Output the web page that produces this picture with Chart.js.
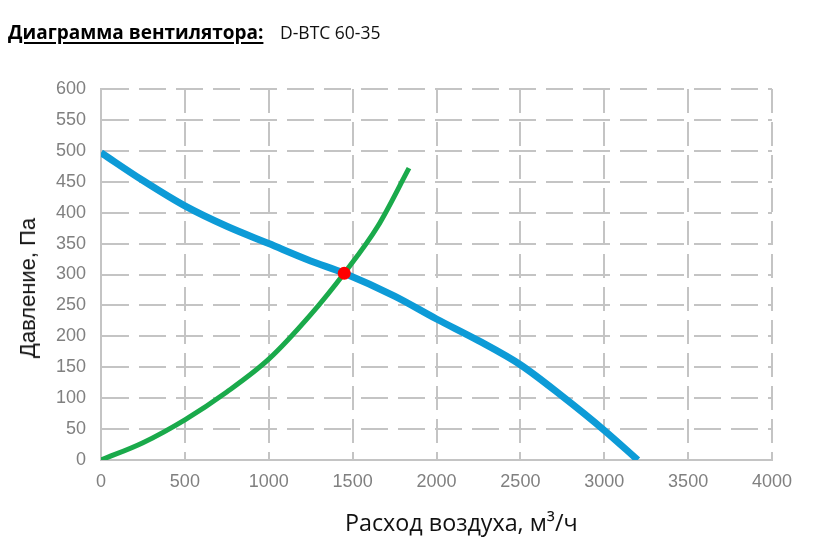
<!DOCTYPE html>
<html>
<head>
<meta charset="utf-8">
<script src="https://cdn.jsdelivr.net/npm/chart.js@4"></script>
<style>
  html, body { margin:0; padding:0; background:#fff; }
  #wrap { position:relative; width:820px; height:560px; overflow:hidden; }
  #c { position:absolute; left:0; top:0; }
  .t { position:absolute; white-space:nowrap; color:#000; }
  #title { left:8px; top:19px; font-family:"Open Sans", sans-serif; font-weight:bold; font-size:19px; text-decoration:underline; text-decoration-thickness:2px; text-underline-offset:3px; }
  #model { left:280px; top:20px; font-family:"Open Sans", sans-serif; font-size:17.5px; color:#111; }
  #xtitle { left:345px; top:506px; font-family:"Open Sans", sans-serif; font-size:23.3px; color:#111; }
  #ytitle { left:28px; top:288px; font-family:"Liberation Sans", Arial, sans-serif; font-size:22px; color:#111; transform:translate(-50%,-50%) rotate(-90deg); }
</style>
</head>
<body>
<div id="wrap">
  <canvas id="c" width="820" height="560"></canvas>
  <div class="t" id="title">Диаграмма вентилятора:</div>
  <div class="t" id="model">D-BTC 60-35</div>
  <div class="t" id="xtitle">Расход воздуха, м³/ч</div>
  <div class="t" id="ytitle">Давление, Па</div>
</div>
<script>
// Fan curve (blue)
const fanFlow     = [0, 250, 500, 750, 1000, 1250, 1450, 1750, 2000, 2250, 2500, 2750, 3000, 3200];
const fanPressure = [497, 452, 411, 378, 350, 322, 302, 265, 228, 193, 154, 103, 48, 0];
// System curve (green)
const sysFlow     = [0, 250, 500, 750, 1000, 1250, 1450, 1650, 1836];
const sysPressure = [0, 28, 65, 110, 163, 235, 302, 378, 472];
// Working point (red)
const opFlow = [1450];
const opPressure = [302];

const xTicks = [0, 500, 1000, 1500, 2000, 2500, 3000, 3500, 4000];
const yTicks = [0, 50, 100, 150, 200, 250, 300, 350, 400, 450, 500, 550, 600];

const pts = (xs, ys) => xs.map((x, i) => ({ x: x, y: ys[i] }));

const gridColor = '#c4c4c4';
const tickFont = { family: '"Liberation Sans", Arial, sans-serif', size: 18 };

new Chart(document.getElementById('c'), {
  type: 'scatter',
  data: {
    datasets: [
      {
        data: pts(opFlow, opPressure),
        pointRadius: 6.5,
        pointBackgroundColor: '#ff0000',
        pointBorderWidth: 0,
        showLine: false,
        order: 0
      },
      {
        data: pts(sysFlow, sysPressure),
        showLine: true,
        borderColor: '#1aaa4b',
        borderWidth: 5,
        pointRadius: 0,
        cubicInterpolationMode: 'monotone',
        order: 1
      },
      {
        data: pts(fanFlow, fanPressure),
        showLine: true,
        borderColor: '#0d9bd7',
        borderWidth: 7,
        pointRadius: 0,
        cubicInterpolationMode: 'monotone',
        order: 2
      }
    ]
  },
  options: {
    responsive: false,
    animation: false,
    devicePixelRatio: 1,
    layout: { padding: { left: 0, right: 48, top: 89, bottom: 0 } },
    plugins: { legend: { display: false }, tooltip: { enabled: false } },
    scales: {
      x: {
        type: 'linear',
        min: 0, max: 4000,
        afterBuildTicks: s => { s.ticks = xTicks.map(v => ({ value: v })); },
        afterFit: s => { s.height = 100; },
        ticks: { color: '#808080', font: tickFont, padding: 11, callback: v => String(v) },
        grid: { color: gridColor, lineWidth: 2, drawTicks: false },
        border: { display: true, color: gridColor, width: 2, dash: [24, 9] }
      },
      y: {
        type: 'linear',
        min: 0, max: 600,
        afterBuildTicks: s => { s.ticks = yTicks.map(v => ({ value: v })); },
        afterFit: s => { s.width = 101; },
        ticks: { color: '#808080', font: tickFont, padding: 15, callback: v => String(v) },
        grid: { color: gridColor, lineWidth: 2, drawTicks: false },
        border: { display: true, color: gridColor, width: 2, dash: [27, 10] }
      }
    }
  }
});
</script>
</body>
</html>
